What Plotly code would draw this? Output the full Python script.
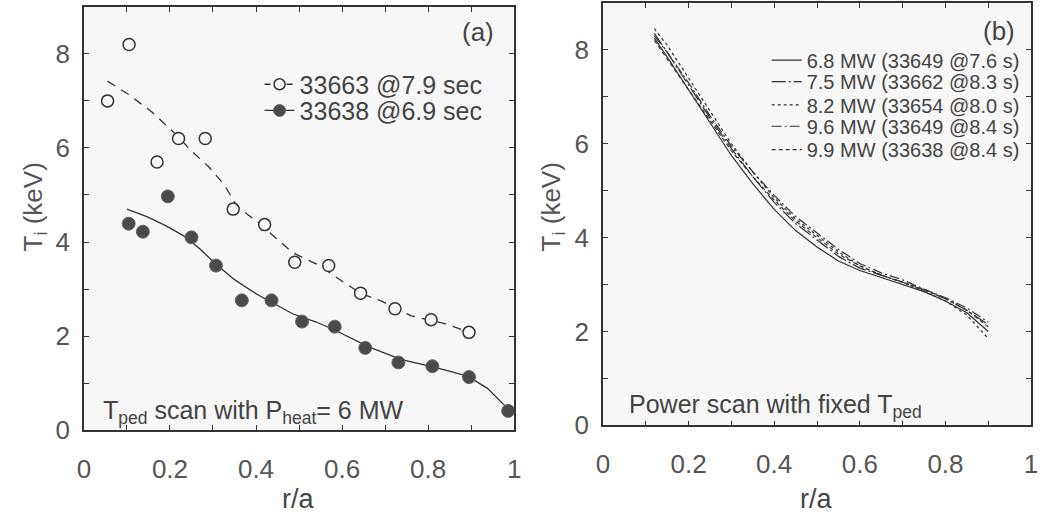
import plotly.graph_objects as go

# ---- panel (a): pedestal temperature scan at fixed heating power ----
r_33663 = [0.055, 0.105, 0.17, 0.22, 0.282, 0.347, 0.42, 0.49, 0.569, 0.643, 0.723, 0.807, 0.895]
ti_33663 = [7.0, 8.2, 5.7, 6.2, 6.2, 4.7, 4.37, 3.57, 3.5, 2.91, 2.58, 2.35, 2.08]
r_33638 = [0.104, 0.137, 0.195, 0.25, 0.307, 0.367, 0.436, 0.507, 0.583, 0.654, 0.731, 0.81, 0.895, 0.986]
ti_33638 = [4.39, 4.22, 4.97, 4.1, 3.5, 2.76, 2.76, 2.31, 2.2, 1.75, 1.44, 1.36, 1.13, 0.41]

# smoothed fits through each profile
r_fit_33663 = [0.055, 0.105, 0.16, 0.218, 0.245, 0.29, 0.326, 0.356, 0.40, 0.433, 0.486, 0.548,
               0.585, 0.643, 0.693, 0.761, 0.837, 0.89]
ti_fit_33663 = [7.42, 7.13, 6.75, 6.25, 5.98, 5.6, 5.22, 4.76, 4.45, 4.19, 3.77, 3.5,
                3.26, 2.91, 2.74, 2.43, 2.27, 2.1]
r_fit_33638 = [0.10, 0.149, 0.19, 0.234, 0.27, 0.307, 0.35, 0.402, 0.45, 0.486, 0.54, 0.585, 0.662,
               0.738, 0.814, 0.892, 0.938, 0.984]
ti_fit_33638 = [4.7, 4.53, 4.35, 4.12, 3.85, 3.53, 3.2, 2.89, 2.65, 2.47, 2.3, 2.12, 1.77,
                1.5, 1.34, 1.15, 0.89, 0.47]
scan_labels = ["33663 @7.9 sec", "33638 @6.9 sec"]

# ---- panel (b): heating power scan at fixed pedestal ----
r_power = [0.12, 0.15, 0.2, 0.25, 0.3, 0.35, 0.4, 0.45, 0.5, 0.55, 0.6, 0.65, 0.7, 0.75, 0.8, 0.85, 0.9]
ti_68mw = [8.25, 7.85, 7.15, 6.45, 5.75, 5.15, 4.6, 4.15, 3.8, 3.5, 3.3, 3.15, 3.0, 2.85, 2.65, 2.4, 2.0]
ti_75mw = [8.35, 7.95, 7.25, 6.55, 5.9, 5.3, 4.75, 4.3, 3.95, 3.6, 3.35, 3.2, 3.05, 2.88, 2.7, 2.45, 2.15]
ti_82mw = [8.45, 8.1, 7.4, 6.7, 6.0, 5.4, 4.85, 4.4, 4.05, 3.7, 3.4, 3.2, 3.05, 2.85, 2.65, 2.35, 1.85]
ti_96mw = [8.3, 7.95, 7.3, 6.6, 5.95, 5.4, 4.9, 4.45, 4.1, 3.75, 3.45, 3.25, 3.1, 2.9, 2.72, 2.5, 2.2]
ti_99mw = [8.2, 7.8, 7.15, 6.5, 5.85, 5.3, 4.8, 4.35, 4.0, 3.65, 3.4, 3.2, 3.05, 2.9, 2.7, 2.45, 2.1]
power_labels = ["6.8 MW (33649 @7.6 s)", "7.5 MW (33662 @8.3 s)", "8.2 MW (33654 @8.0 s)",
                "9.6 MW (33649 @8.4 s)", "9.9 MW (33638 @8.4 s)"]
power_dashes = ["solid", "14px,3px,2px,3px", "dot", "10px,3px,2px,3px", "4px,3px"]

# axis ticks
x_tickvals = [0, 0.1, 0.2, 0.3, 0.4, 0.5, 0.6, 0.7, 0.8, 0.9, 1.0]
x_ticktext = ["0", "", "0.2", "", "0.4", "", "0.6", "", "0.8", "", "1"]
y_tickvals = [0, 1, 2, 3, 4, 5, 6, 7, 8, 9]
y_ticktext = ["0", "", "2", "", "4", "", "6", "", "8", ""]

FONT = "Liberation Sans, Arial, sans-serif"
INK = "#333333"
TXT = "#444444"
GREY = "#555555"

fig = go.Figure()

# panel (a) fits
fig.add_trace(go.Scatter(x=r_fit_33663, y=ti_fit_33663, mode="lines", showlegend=False,
                         line=dict(color=INK, width=1.3, dash="9px,7px"), xaxis="x", yaxis="y"))
fig.add_trace(go.Scatter(x=r_fit_33638, y=ti_fit_33638, mode="lines", showlegend=False,
                         line=dict(color=INK, width=1.3), xaxis="x", yaxis="y"))
# panel (a) measurements
fig.add_trace(go.Scatter(x=r_33663, y=ti_33663, mode="markers", showlegend=False,
                         marker=dict(symbol="circle", size=12, color="#f7f7f7",
                                     line=dict(color=INK, width=1.5)), xaxis="x", yaxis="y"))
fig.add_trace(go.Scatter(x=r_33638, y=ti_33638, mode="markers", showlegend=False,
                         marker=dict(symbol="circle", size=13, color="#4a4a4a",
                                     line=dict(color="#6a6a6a", width=1)), xaxis="x", yaxis="y"))
# panel (a) legend entries (one legend box per entry so the row spacing can be set)
fig.add_trace(go.Scatter(x=[None], y=[None], mode="lines+markers", name=scan_labels[0],
                         line=dict(color=INK, width=1.3, dash="6px,5px"),
                         marker=dict(symbol="circle", size=11, color="#f7f7f7",
                                     line=dict(color=INK, width=1.5)),
                         xaxis="x", yaxis="y", legend="legend"))
fig.add_trace(go.Scatter(x=[None], y=[None], mode="lines+markers", name=scan_labels[1],
                         line=dict(color=INK, width=1.3),
                         marker=dict(symbol="circle", size=12, color="#4a4a4a",
                                     line=dict(color="#6a6a6a", width=1)),
                         xaxis="x", yaxis="y", legend="legend2"))

# panel (b) profiles
power_legends = ["legend3", "legend4", "legend5", "legend6", "legend7"]
for ys, name, dash, leg in zip([ti_68mw, ti_75mw, ti_82mw, ti_96mw, ti_99mw],
                               power_labels, power_dashes, power_legends):
    fig.add_trace(go.Scatter(x=r_power, y=ys, mode="lines", name=name,
                             line=dict(color=INK, width=1.2, dash=dash),
                             xaxis="x2", yaxis="y2", legend=leg))

axis_common = dict(
    showline=True, linecolor=INK, linewidth=1.5, mirror="ticks",
    ticks="inside", ticklen=5, tickwidth=1, tickcolor=INK,
    showgrid=False, zeroline=False,
    tickfont=dict(family=FONT, size=26, color=GREY),
)


def legend_box(xpx, ypx, size):
    return dict(x=xpx / 1045, y=1 - ypx / 519, xref="paper", yref="paper",
                xanchor="left", yanchor="middle", bgcolor="rgba(0,0,0,0)", borderwidth=0,
                font=dict(family=FONT, size=size, color=TXT), itemwidth=30)


layout_legends = {
    "legend": legend_box(256, 87, 25),
    "legend2": legend_box(256, 114, 25),
}
for leg, ypx in zip(power_legends, [62, 84, 108, 130, 154]):
    layout_legends[leg] = legend_box(770, ypx, 20)

fig.update_layout(
    width=1045, height=519,
    margin=dict(l=0, r=0, t=0, b=0),
    paper_bgcolor="white", plot_bgcolor="#f7f7f7",
    font=dict(family=FONT, color=TXT),
    xaxis=dict(domain=[0.0746, 0.4919], range=[0, 1], tickvals=x_tickvals, ticktext=x_ticktext,
               anchor="y", ticklabelstandoff=15, **axis_common),
    yaxis=dict(domain=[0.1464, 0.9865], range=[0, 9], tickvals=y_tickvals, ticktext=y_ticktext,
               anchor="x", ticklabelstandoff=7, **axis_common),
    xaxis2=dict(domain=[0.578, 0.9933], range=[0, 1], tickvals=x_tickvals, ticktext=x_ticktext,
                anchor="y2", ticklabelstandoff=15, **axis_common),
    yaxis2=dict(domain=[0.156, 0.9942], range=[0, 9], tickvals=y_tickvals, ticktext=y_ticktext,
                anchor="x2", ticklabelstandoff=7, **axis_common),
    showlegend=True,
    **layout_legends,
)


def note(text, x, y, xref, yref, size, color=TXT, angle=0, xanchor="center"):
    return dict(text=text, x=x, y=y, xref=xref, yref=yref, showarrow=False, textangle=angle,
                xanchor=xanchor, yanchor="middle", font=dict(family=FONT, size=size, color=color))


annotations = [
    note("(a)", 0.915, 8.47, "x", "y", 26),
    note("(b)", 0.924, 8.4, "x2", "y2", 26),
    note("T<sub>ped</sub> scan with P<sub>heat</sub>= 6 MW", 0.04, 0.39, "x", "y", 25, xanchor="left"),
    note("Power scan with fixed T<sub>ped</sub>", 0.056, 0.41, "x2", "y2", 25, xanchor="left"),
    note("r/a", 295 / 1045, 1 - 514 / 519, "paper", "paper", 27),
    note("r/a", 820 / 1045, 1 - 514 / 519, "paper", "paper", 27),
    note("T<sub>i</sub> (keV)", 28 / 1045, 1 - 213 / 519, "paper", "paper", 26, GREY, -90),
    note("T<sub>i</sub> (keV)", 553 / 1045, 1 - 213 / 519, "paper", "paper", 26, GREY, -90),
]
fig.update_layout(annotations=annotations)

fig.write_html("out.html")
